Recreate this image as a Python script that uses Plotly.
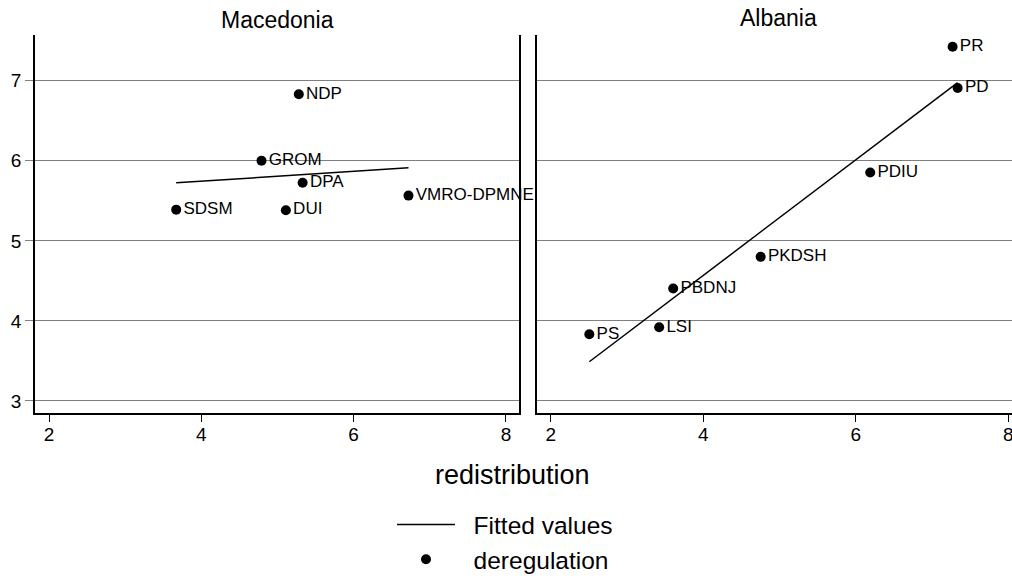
import plotly.graph_objects as go

FONT = "Liberation Sans, Arial, sans-serif"

# ---- data ----
mk_party = ["SDSM", "GROM", "DUI", "NDP", "DPA", "VMRO-DPMNE"]
mk_redistribution = [3.67, 4.79, 5.11, 5.28, 5.33, 6.72]
mk_deregulation = [5.39, 6.00, 5.383, 6.83, 5.725, 5.565]
mk_fit_x = [3.67, 6.72]
mk_fit_y = [5.725, 5.9125]

al_party = ["PS", "LSI", "PBDNJ", "PKDSH", "PDIU", "PR", "PD"]
al_redistribution = [2.506, 3.422, 3.606, 4.753, 6.19, 7.27, 7.336]
al_deregulation = [3.833, 3.921, 4.404, 4.80, 5.854, 7.425, 6.908]
al_fit_x = [2.506, 7.336]
al_fit_y = [3.49, 6.975]

panel_titles = ["Macedonia", "Albania"]
x_ticks = [2, 4, 6, 8]
y_ticks = [3, 4, 5, 6, 7]
legend_names = ["Fitted values", "deregulation"]

fig = go.Figure()

panels = [
    (mk_redistribution, mk_deregulation, mk_party, mk_fit_x, mk_fit_y, "x", "y"),
    (al_redistribution, al_deregulation, al_party, al_fit_x, al_fit_y, "x2", "y2"),
]
PAD = "\u00a0\u00a0"
for i, (xs, ys, labels, fx, fy, xa, ya) in enumerate(panels):
    fig.add_trace(go.Scatter(
        x=fx, y=fy, mode="lines", name=PAD + legend_names[0],
        line=dict(color="black", width=1.5),
        xaxis=xa, yaxis=ya, showlegend=(i == 1), legendrank=1,
        hoverinfo="skip"))
    fig.add_trace(go.Scatter(
        x=xs, y=ys, mode="markers", name=PAD + legend_names[1],
        marker=dict(color="black", size=10),
        xaxis=xa, yaxis=ya, showlegend=(i == 1), legendrank=2))
    fig.add_trace(go.Scatter(
        x=xs, y=ys, mode="markers+text", text=labels,
        textposition="middle right",
        textfont=dict(family=FONT, size=17, color="black"),
        marker=dict(color="rgba(0,0,0,0)", size=10),
        cliponaxis=False, xaxis=xa, yaxis=ya, showlegend=False,
        hoverinfo="skip"))

W, H = 1012, 576
L, R, T, B = 35, 0, 35, 163
plot_w = W - L - R
plot_h = H - T - B


def px_x(px):
    return (px - L) / plot_w


def px_y(py):
    return (H - B - py) / plot_h


axis_common = dict(
    showline=True, linecolor="black", linewidth=1.5,
    zeroline=False,
)
fig.update_layout(
    width=W, height=H,
    margin=dict(l=L, r=R, t=T, b=B, autoexpand=False),
    paper_bgcolor="white", plot_bgcolor="white",
    font=dict(family=FONT, color="black"),
    xaxis=dict(domain=[0, 484.3 / plot_w], range=[1.816, 8.175],
               tickvals=x_ticks, ticks="outside", ticklen=7, tickcolor="black",
               tickwidth=1.2, tickfont=dict(size=19), showgrid=False,
               ticklabelstandoff=-4,
               anchor="y", **axis_common),
    xaxis2=dict(domain=[502.3 / plot_w, 1], range=[1.824, 8.049],
                tickvals=x_ticks, ticks="outside", ticklen=7, tickcolor="black",
                tickwidth=1.2, tickfont=dict(size=19), showgrid=False,
                ticklabeloverflow="allow", ticklabelstandoff=-4,
                anchor="y2", **axis_common),
    yaxis=dict(domain=[0, 1], range=[2.85, 7.571], tickvals=y_ticks,
               ticks="outside", ticklen=8, tickcolor="#7f7f7f", tickwidth=1.2,
               tickfont=dict(size=19), showgrid=True, gridcolor="#7f7f7f",
               gridwidth=1.2, mirror=True, anchor="x", **axis_common),
    yaxis2=dict(domain=[0, 1], range=[2.85, 7.571], tickvals=y_ticks,
                ticks="", showticklabels=False, showgrid=True,
                gridcolor="#7f7f7f", gridwidth=1.2, mirror=True, anchor="x2",
                **axis_common),
    legend=dict(
        orientation="v", xref="container", yref="container",
        x=392 / W, xanchor="left", y=1 - 502 / H, yanchor="top",
        font=dict(family=FONT, size=24.5, color="black"),
        itemwidth=58, bgcolor="rgba(0,0,0,0)", tracegroupgap=0,
    ),
    annotations=[
        dict(text=panel_titles[0], xref="paper", yref="paper",
             x=px_x(277.2), y=px_y(19.5), xanchor="center", yanchor="middle",
             showarrow=False, font=dict(size=23)),
        dict(text=panel_titles[1], xref="paper", yref="paper",
             x=px_x(778.7), y=px_y(18.5), xanchor="center",
             yanchor="middle", showarrow=False, font=dict(size=23)),
        dict(text="redistribution", xref="paper", yref="paper",
             x=px_x(512), y=px_y(475), xanchor="center", yanchor="middle",
             showarrow=False, font=dict(size=27)),
    ],
)

fig.write_html("out.html")
